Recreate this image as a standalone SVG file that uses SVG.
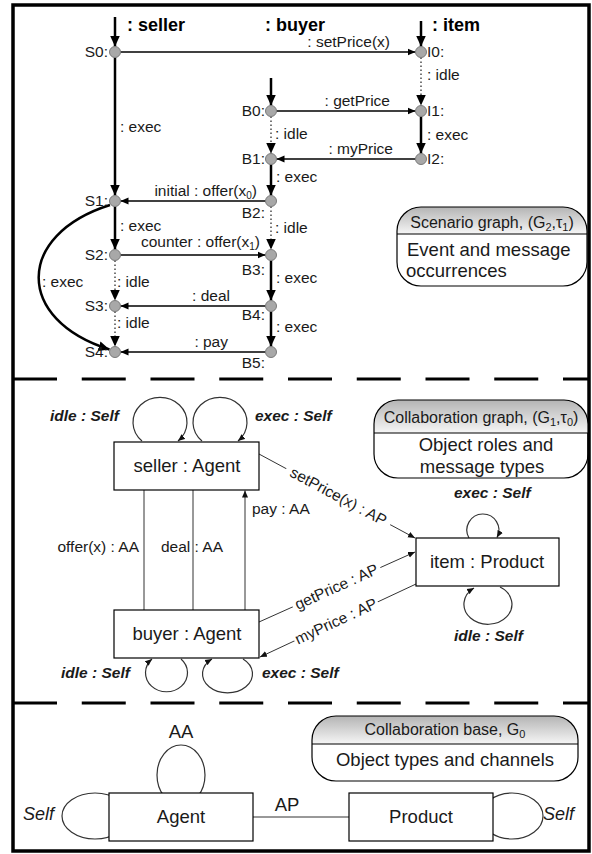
<svg xmlns="http://www.w3.org/2000/svg" width="592" height="854" viewBox="0 0 592 854">
<defs>
<style>
text{font-family:"Liberation Sans",Arial,sans-serif;fill:#1a1a1a}
.lb{font-size:15.5px}
.hd{font-size:18px;font-weight:bold;fill:#000}
.nm{font-size:18.5px}
.ph{font-size:16px}
.si{font-size:15.5px;font-weight:bold;font-style:italic}
.it{font-size:18px;font-style:italic}
.nd{fill:#a8a8a8;stroke:#7a7a7a;stroke-width:1}
.life{stroke:#000;stroke-width:2.5;fill:none}
.idle{stroke:#777;stroke-width:2;stroke-dasharray:1.5 2.5;fill:none}
.msg{stroke:#000;stroke-width:1.6;fill:none}
.box{fill:#fff;stroke:#000;stroke-width:1.2}
.cl{stroke:#333;stroke-width:1;fill:none}
.loop{stroke:#333;stroke-width:1.2;fill:none}
.pill{fill:none;stroke:#000;stroke-width:1.2}
.sep{stroke:#000;stroke-width:3;stroke-dasharray:44 24.75;fill:none}
</style>
<marker id="ah" markerUnits="userSpaceOnUse" markerWidth="12" markerHeight="10" refX="11" refY="5" orient="auto"><path d="M0,0 L11,5 L0,10 z" fill="#000"/></marker>
<marker id="am" markerUnits="userSpaceOnUse" markerWidth="9" markerHeight="8" refX="8" refY="4" orient="auto"><path d="M0,0.5 L8,4 L0,7.5 z" fill="#000"/></marker>
<marker id="as" markerUnits="userSpaceOnUse" markerWidth="8" markerHeight="7" refX="7" refY="3.5" orient="auto"><path d="M0,0.5 L7,3.5 L0,6.5 z" fill="#111"/></marker>
<linearGradient id="hg" x1="0" y1="0" x2="0" y2="1"><stop offset="0" stop-color="#b4b4b4"/><stop offset="1" stop-color="#f6f6f6"/></linearGradient>
</defs>
<rect x="0" y="0" width="592" height="854" fill="#fff"/>
<rect x="13" y="5" width="576" height="846" fill="none" stroke="#000" stroke-width="3.5"/>
<path class="sep" d="M13,379 L589,379"/>
<path class="sep" d="M13,703 L589,703"/>

<!-- ===== Scenario graph ===== -->
<text class="hd" x="127" y="31">: seller</text>
<text class="hd" x="265" y="31">: buyer</text>
<text class="hd" x="432" y="31">: item</text>

<g id="connectors">
<!-- top section -->
<path class="life" d="M115,17 L115,46.5" marker-end="url(#ah)"/>
<path class="life" d="M271,78 L271,105.5" marker-end="url(#ah)"/>
<path class="life" d="M421,21 L421,46.5" marker-end="url(#ah)"/>
<path class="life" d="M115,57.5 L115,195.5" marker-end="url(#ah)"/>
<path class="life" d="M115,206.5 L115,249.5" marker-end="url(#ah)"/>
<path class="idle" d="M115,260.5 L115,300.5" marker-end="url(#ah)"/>
<path class="idle" d="M115,311.5 L115,346.5" marker-end="url(#ah)"/>
<path class="idle" d="M271,116.5 L271,153.5" marker-end="url(#ah)"/>
<path class="life" d="M271,164.5 L271,195.5" marker-end="url(#ah)"/>
<path class="idle" d="M271,206.5 L271,249.5" marker-end="url(#ah)"/>
<path class="life" d="M271,260.5 L271,300.5" marker-end="url(#ah)"/>
<path class="life" d="M271,311.5 L271,346.5" marker-end="url(#ah)"/>
<path class="idle" d="M421,57.5 L421,105.5" marker-end="url(#ah)"/>
<path class="life" d="M421,116.5 L421,153.5" marker-end="url(#ah)"/>
<path class="msg" d="M120.5,52 L415.5,52" marker-end="url(#am)"/>
<path class="msg" d="M276.5,111 L415.5,111" marker-end="url(#am)"/>
<path class="msg" d="M415.5,159 L276.5,159" marker-end="url(#am)"/>
<path class="msg" d="M265.5,201 L120.5,201" marker-end="url(#am)"/>
<path class="msg" d="M120.5,255 L265.5,255" marker-end="url(#am)"/>
<path class="msg" d="M265.5,306 L120.5,306" marker-end="url(#am)"/>
<path class="msg" d="M265.5,352 L120.5,352" marker-end="url(#am)"/>
<path class="life" d="M110,205 C15,235 15,320 109.5,349.5" marker-end="url(#ah)"/>
<!-- middle section -->
<path class="cl" d="M144,490 L144,610"/>
<path class="cl" d="M193,490 L193,610"/>
<path class="cl" d="M245,610 L245,490.5" marker-end="url(#as)"/>
<path class="loop" d="M142,441 A27,25 0 1 1 178,441" marker-end="url(#as)"/>
<path class="loop" d="M202,441 A27,25 0 1 1 238,441" marker-end="url(#as)"/>
<path class="loop" d="M469,538 A16,16 0 1 1 497,537.5" marker-end="url(#as)"/>
<path class="loop" d="M500,587 A24,20 0 1 1 474,588" marker-end="url(#as)"/>
<path class="loop" d="M181,659 A21,19 0 1 1 152,659" marker-end="url(#as)"/>
<path class="loop" d="M243,659 A25,19 0 1 1 212,659" marker-end="url(#as)"/>
<path class="cl" d="M259,454 L415,538" marker-end="url(#as)"/>
<path class="cl" d="M259,622 L415,552" marker-end="url(#as)"/>
<path class="cl" d="M416,584 L260,657" marker-end="url(#as)"/>
<!-- bottom section -->
<ellipse class="loop" cx="181" cy="775" rx="24" ry="30"/>
<ellipse class="loop" cx="95" cy="816" rx="33" ry="23"/>
<ellipse class="loop" cx="512" cy="816" rx="31" ry="23"/>
<path class="cl" d="M253,817 L349,817"/>
</g>

<!-- message / lifeline labels -->
<g id="labels-top" class="lb">
<text class="lb" x="390" y="47" text-anchor="end">: setPrice(x)</text>
<text class="lb" x="390" y="106" text-anchor="end">: getPrice</text>
<text class="lb" x="393" y="154" text-anchor="end">: myPrice</text>
<text class="lb" x="257" y="196" text-anchor="end">initial : offer(x<tspan font-size="10" dy="3">0</tspan><tspan dy="-3">)</tspan></text>
<text class="lb" x="260" y="247" text-anchor="end">counter : offer(x<tspan font-size="10" dy="3">1</tspan><tspan dy="-3">)</tspan></text>
<text class="lb" x="230" y="301" text-anchor="end">: deal</text>
<text class="lb" x="228" y="347" text-anchor="end">: pay</text>
<text class="lb" x="120" y="132">: exec</text>
<text class="lb" x="120" y="231">: exec</text>
<text class="lb" x="117" y="287">: idle</text>
<text class="lb" x="117" y="328">: idle</text>
<text class="lb" x="42" y="287">: exec</text>
<text class="lb" x="275" y="139">: idle</text>
<text class="lb" x="276" y="182">: exec</text>
<text class="lb" x="275" y="233">: idle</text>
<text class="lb" x="276" y="283">: exec</text>
<text class="lb" x="276" y="332">: exec</text>
<text class="lb" x="427" y="80">: idle</text>
<text class="lb" x="427" y="140">: exec</text>
</g>

<g id="S0"><circle class="nd" cx="115" cy="52" r="5.5"/><text class="lb" x="108" y="57" text-anchor="end">S0:</text></g>
<g id="S1"><circle class="nd" cx="115" cy="201" r="5.5"/><text class="lb" x="108" y="206" text-anchor="end">S1:</text></g>
<g id="S2"><circle class="nd" cx="115" cy="255" r="5.5"/><text class="lb" x="108" y="260" text-anchor="end">S2:</text></g>
<g id="S3"><circle class="nd" cx="115" cy="306" r="5.5"/><text class="lb" x="108" y="311" text-anchor="end">S3:</text></g>
<g id="S4"><circle class="nd" cx="115" cy="352" r="5.5"/><text class="lb" x="108" y="357" text-anchor="end">S4:</text></g>
<g id="B0"><circle class="nd" cx="271" cy="111" r="5.5"/><text class="lb" x="265" y="116" text-anchor="end">B0:</text></g>
<g id="B1"><circle class="nd" cx="271" cy="159" r="5.5"/><text class="lb" x="265" y="164" text-anchor="end">B1:</text></g>
<g id="B2"><circle class="nd" cx="271" cy="201" r="5.5"/><text class="lb" x="265" y="218" text-anchor="end">B2:</text></g>
<g id="B3"><circle class="nd" cx="271" cy="255" r="5.5"/><text class="lb" x="265" y="275" text-anchor="end">B3:</text></g>
<g id="B4"><circle class="nd" cx="271" cy="306" r="5.5"/><text class="lb" x="265" y="320" text-anchor="end">B4:</text></g>
<g id="B5"><circle class="nd" cx="271" cy="352" r="5.5"/><text class="lb" x="265" y="368" text-anchor="end">B5:</text></g>
<g id="I0"><circle class="nd" cx="421" cy="52" r="5.5"/><text class="lb" x="427" y="57">I0:</text></g>
<g id="I1"><circle class="nd" cx="421" cy="111" r="5.5"/><text class="lb" x="427" y="116">I1:</text></g>
<g id="I2"><circle class="nd" cx="421" cy="159" r="5.5"/><text class="lb" x="427" y="164">I2:</text></g>

<g id="scenario-legend">
<path d="M397,234 L397,231 A24,24 0 0 1 421,207 L563,207 A24,24 0 0 1 587,231 L587,234 Z" fill="url(#hg)"/>
<rect class="pill" x="397" y="207" width="190" height="79" rx="24" ry="24"/>
<line x1="397" y1="234" x2="587" y2="234" stroke="#000" stroke-width="1.2"/>
<text class="ph" x="492" y="228" text-anchor="middle">Scenario graph, (G<tspan font-size="11" dy="3">2</tspan><tspan dy="-3">,τ</tspan><tspan font-size="11" dy="3">1</tspan><tspan dy="-3">)</tspan></text>
<text class="nm" x="407" y="256">Event and message</text>
<text class="nm" x="406" y="277">occurrences</text>
</g>

<!-- ===== Collaboration graph ===== -->
<g id="seller-agent"><rect class="box" x="114" y="442" width="145" height="48"/><text class="nm" x="187" y="472" text-anchor="middle">seller : Agent</text></g>
<g id="buyer-agent"><rect class="box" x="114" y="610" width="145" height="48"/><text class="nm" x="187" y="640" text-anchor="middle">buyer : Agent</text></g>
<g id="item-product"><rect class="box" x="416" y="538" width="143" height="48"/><text class="nm" x="487" y="568" text-anchor="middle">item : Product</text></g>

<g id="labels-mid">
<text class="si" x="50" y="421">idle : Self</text>
<text class="si" x="255" y="421">exec : Self</text>
<text class="si" x="454" y="498">exec : Self</text>
<text class="si" x="454" y="641">idle : Self</text>
<text class="si" x="61" y="678">idle : Self</text>
<text class="si" x="262" y="678">exec : Self</text>
<text class="lb" x="139" y="552" text-anchor="end">offer(x) : AA</text>
<text class="lb" x="192" y="552" text-anchor="middle">deal : AA</text>
<text class="lb" x="252" y="514">pay : AA</text>
<g transform="translate(338.3,496.5) rotate(28.17)"><rect x="-59" y="-8" width="118" height="14" fill="#fff"/><text class="lb" x="0" y="5" text-anchor="middle">setPrice(x) : AP</text></g>
<g transform="translate(336.5,587) rotate(-24.3)"><rect x="-48" y="-8" width="96" height="14" fill="#fff"/><text class="lb" x="0" y="5" text-anchor="middle">getPrice : AP</text></g>
<g transform="translate(336.1,621.4) rotate(-25.08)"><rect x="-46" y="-8" width="92" height="14" fill="#fff"/><text class="lb" x="0" y="5" text-anchor="middle">myPrice : AP</text></g>
</g>

<g id="collab-legend">
<path d="M374,433 L374,424 A24,24 0 0 1 398,400 L564,400 A24,24 0 0 1 588,424 L588,433 Z" fill="url(#hg)"/>
<rect class="pill" x="374" y="400" width="214" height="78" rx="24" ry="24"/>
<line x1="374" y1="433" x2="588" y2="433" stroke="#000" stroke-width="1.2"/>
<text class="ph" x="481" y="423" text-anchor="middle">Collaboration graph, (G<tspan font-size="11" dy="3">1</tspan><tspan dy="-3">,τ</tspan><tspan font-size="11" dy="3">0</tspan><tspan dy="-3">)</tspan></text>
<text class="nm" x="486" y="451" text-anchor="middle">Object roles and</text>
<text class="nm" x="482" y="473" text-anchor="middle">message types</text>
</g>

<!-- ===== Collaboration base ===== -->
<g id="agent"><rect class="box" x="109" y="793" width="144" height="48"/><text class="nm" x="181" y="823" text-anchor="middle">Agent</text></g>
<g id="product"><rect class="box" x="349" y="793" width="144" height="48"/><text class="nm" x="421" y="823" text-anchor="middle">Product</text></g>
<g id="labels-bottom">
<text class="nm" x="181" y="738" text-anchor="middle">AA</text>
<text class="nm" x="287" y="811" text-anchor="middle">AP</text>
<text class="it" x="23" y="820">Self</text>
<text class="it" x="543" y="820">Self</text>
</g>
<g id="base-legend">
<path d="M312,744 L312,740 A24,24 0 0 1 336,716 L554,716 A24,24 0 0 1 578,740 L578,744 Z" fill="url(#hg)"/>
<rect class="pill" x="312" y="716" width="266" height="65" rx="24" ry="24"/>
<line x1="312" y1="744" x2="578" y2="744" stroke="#000" stroke-width="1.2"/>
<text class="ph" x="445" y="735" text-anchor="middle">Collaboration base, G<tspan font-size="11" dy="3">0</tspan></text>
<text class="nm" x="445" y="766" text-anchor="middle">Object types and channels</text>
</g>
</svg>
